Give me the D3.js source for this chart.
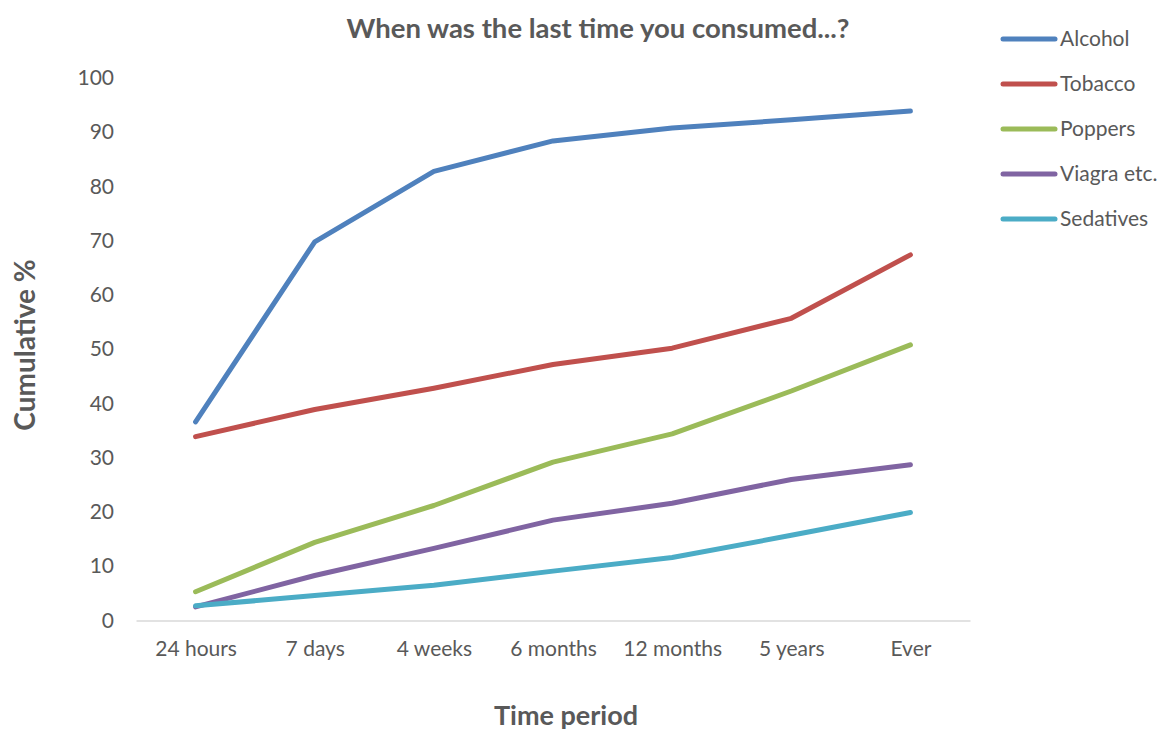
<!DOCTYPE html>
<html>
<head>
<meta charset="utf-8">
<script src="https://cdn.jsdelivr.net/npm/d3@7"></script>
<style>
  body { margin: 0; background: #fff; }
  text { font-family: Lato, "Open Sans", sans-serif; fill: #595959; }
</style>
</head>
<body>
<svg id="chart" width="1163" height="731"></svg>
<script>
const periods = ['24 hours', '7 days', '4 weeks', '6 months', '12 months', '5 years', 'Ever'];

const alcohol   = [36.6, 69.8, 82.8, 88.4, 90.8, 92.3, 93.9];
const tobacco   = [33.9, 38.9, 42.8, 47.2, 50.2, 55.7, 67.4];
const poppers   = [5.3, 14.4, 21.2, 29.2, 34.4, 42.3, 50.8];
const viagra    = [2.5, 8.3, 13.3, 18.5, 21.6, 26.0, 28.7];
const sedatives = [2.7, 4.6, 6.5, 9.1, 11.6, 15.7, 19.9];

const yTicks = [0, 10, 20, 30, 40, 50, 60, 70, 80, 90, 100];

const series = [
  { name: 'Alcohol',     values: alcohol,   color: '#4f81bd' },
  { name: 'Tobacco',     values: tobacco,   color: '#c0504d' },
  { name: 'Poppers',     values: poppers,   color: '#9bbb59' },
  { name: 'Viagra etc.', values: viagra,    color: '#8064a2' },
  { name: 'Sedatives',   values: sedatives, color: '#4bacc6' }
];

const svg = d3.select('#chart');

const x = d3.scalePoint()
  .domain(periods)
  .range([136, 970])
  .padding(0.5);

const y = d3.scaleLinear()
  .domain([0, 100])
  .range([620.5, 78]);

//y axis labels only, no line
const yAxis = svg.append('g')
  .attr('transform', 'translate(114,0)')
  .call(d3.axisLeft(y).tickValues(yTicks).tickSize(0).tickPadding(0));
yAxis.select('.domain').remove();
yAxis.selectAll('text')
  .style('font-size', '21px')
  .attr('fill', '#595959');

//x axis with light baseline
const xAxis = svg.append('g')
  .attr('transform', `translate(0,${y(0)})`)
  .call(d3.axisBottom(x).tickSize(0).tickPadding(21));
xAxis.select('.domain')
  .attr('stroke', '#d9d9d9')
  .attr('stroke-width', 1.5);
xAxis.selectAll('text')
  .style('font-size', '21px')
  .attr('fill', '#595959');

const line = d3.line()
  .x((d, i) => x(periods[i]))
  .y(d => y(d));

svg.append('g')
  .selectAll('path')
  .data(series)
  .enter()
    .append('path')
    .attr('d', d => line(d.values))
    .attr('fill', 'none')
    .attr('stroke', d => d.color)
    .attr('stroke-width', 5)
    .attr('stroke-linecap', 'round')
    .attr('stroke-linejoin', 'round');

//title + axis titles
svg.append('text')
  .attr('x', 598)
  .attr('y', 38)
  .attr('text-anchor', 'middle')
  .style('font-size', '27.5px')
  .style('font-weight', 'bold')
  .text('When was the last time you consumed...?');

svg.append('text')
  .attr('transform', 'translate(35,345) rotate(-90)')
  .attr('text-anchor', 'middle')
  .style('font-size', '28px')
  .style('font-weight', 'bold')
  .text('Cumulative %');

svg.append('text')
  .attr('x', 566)
  .attr('y', 725)
  .attr('text-anchor', 'middle')
  .style('font-size', '27px')
  .style('font-weight', 'bold')
  .text('Time period');

//legend
const legend = svg.append('g')
  .selectAll('g')
  .data(series)
  .enter()
    .append('g')
    .attr('transform', (d, i) => `translate(1003,${39 + i * 45})`);

legend.append('line')
  .attr('x1', 0)
  .attr('x2', 52)
  .attr('stroke', d => d.color)
  .attr('stroke-width', 5)
  .attr('stroke-linecap', 'round');

legend.append('text')
  .attr('x', 57)
  .attr('dy', '0.35em')
  .style('font-size', '21px')
  .text(d => d.name);
</script>
</body>
</html>
